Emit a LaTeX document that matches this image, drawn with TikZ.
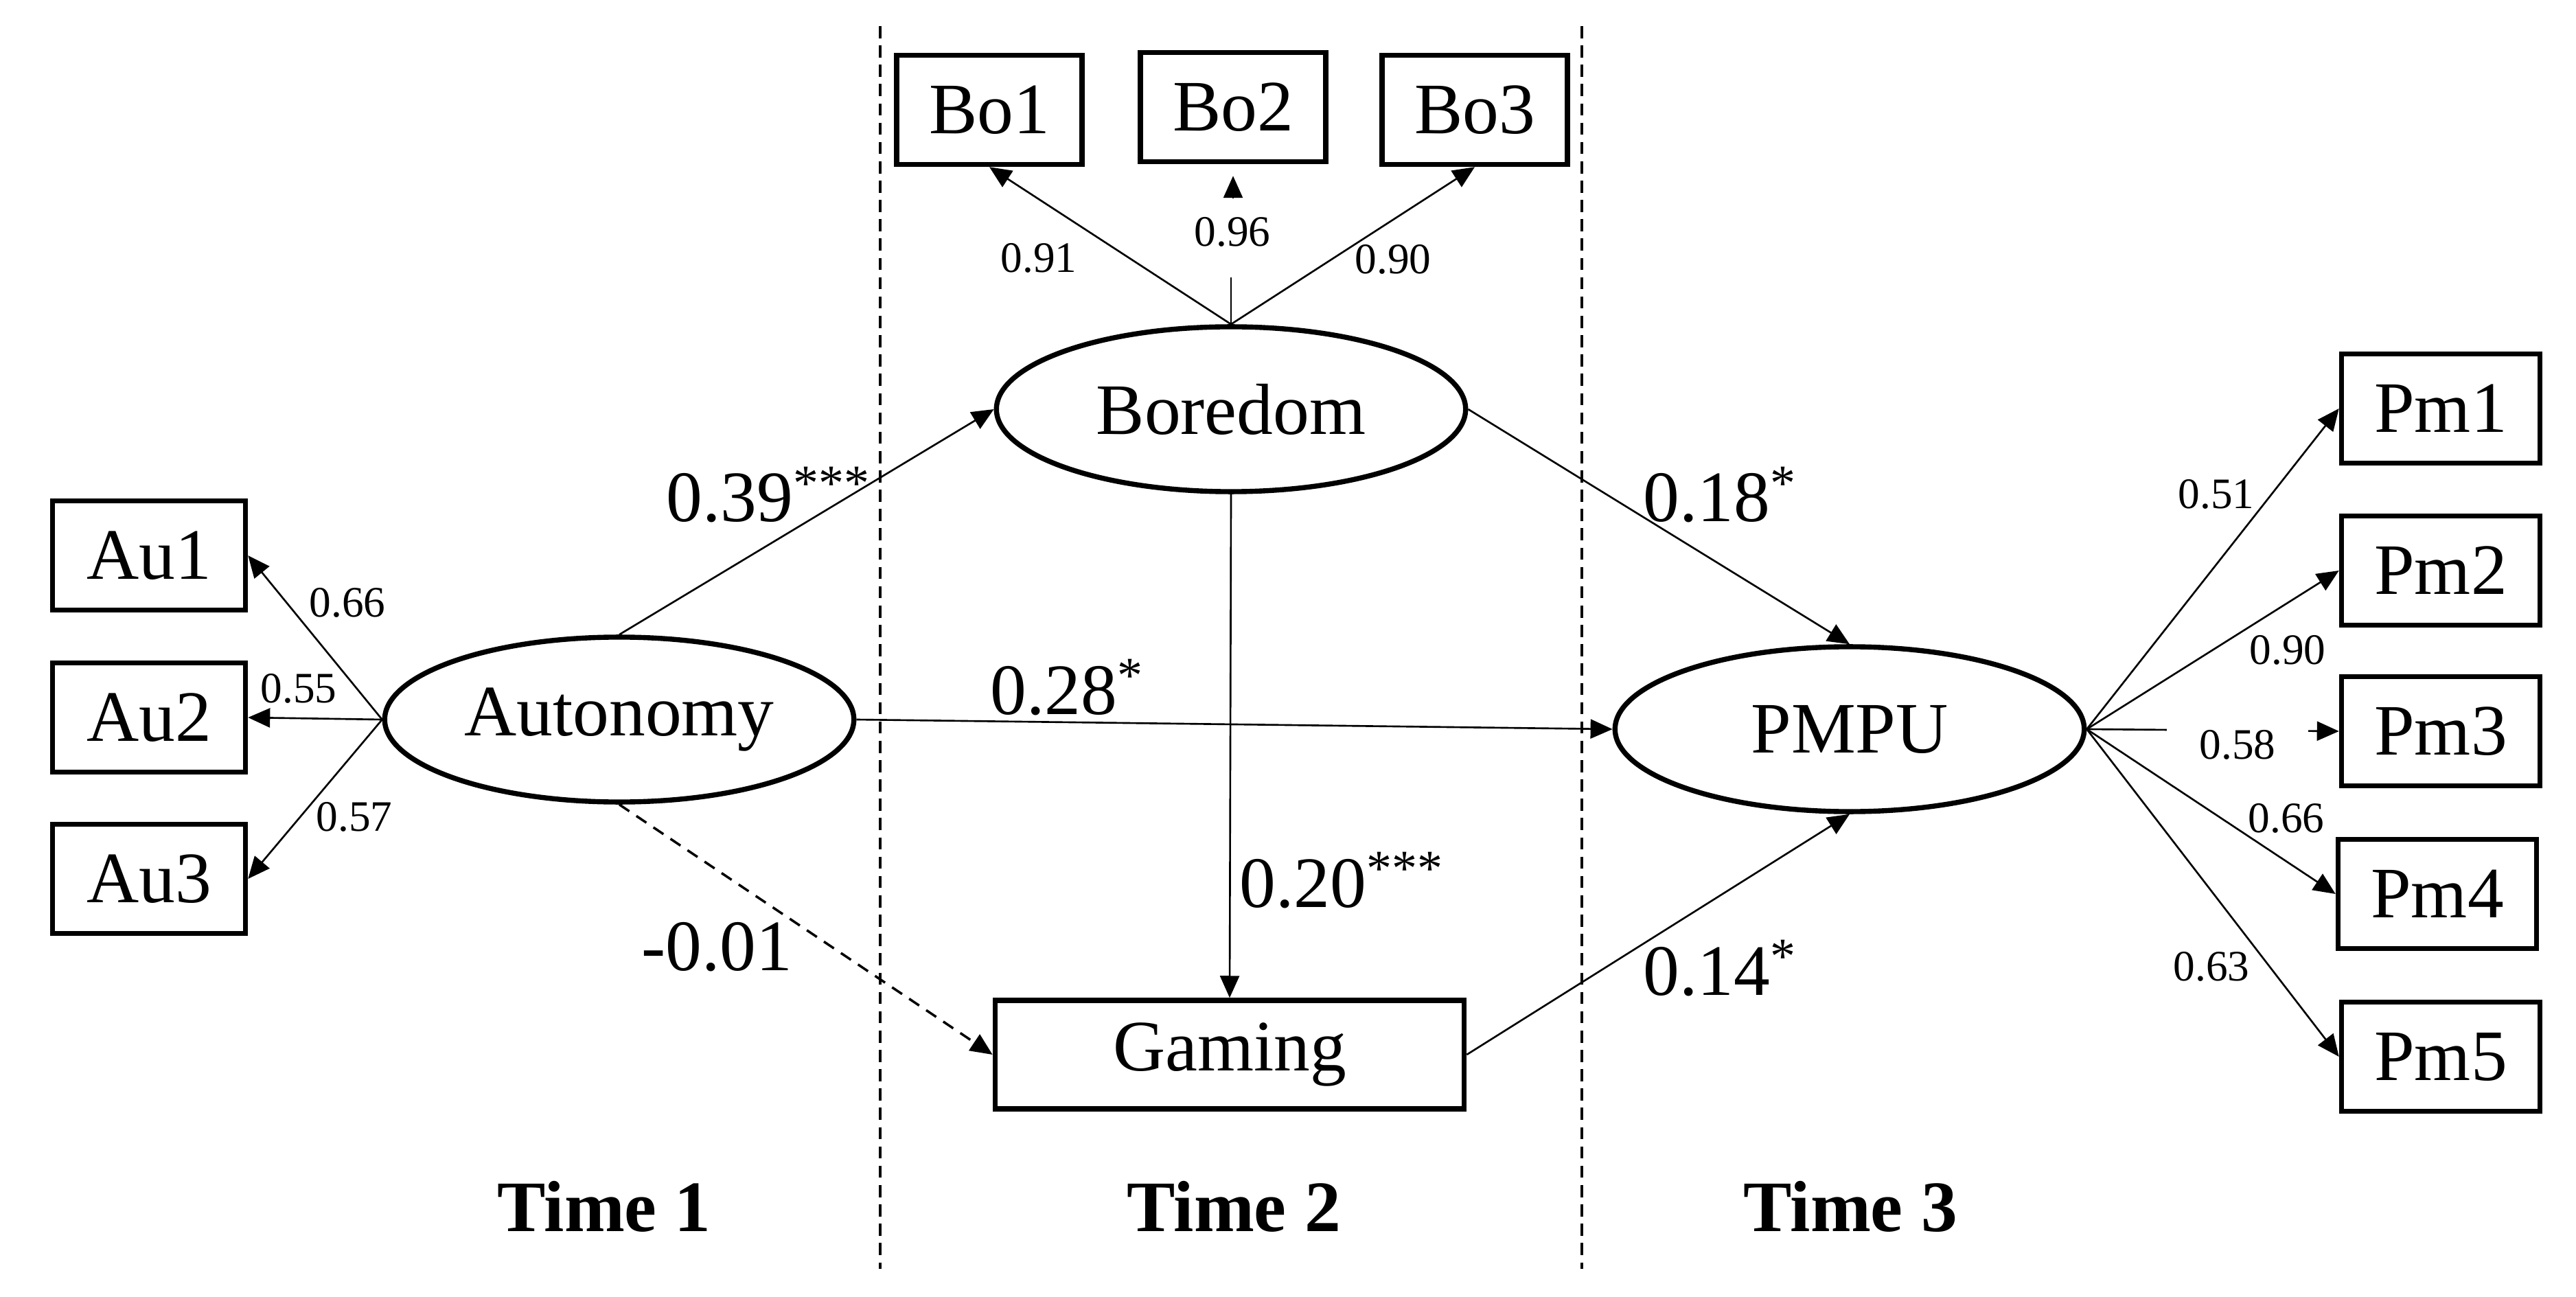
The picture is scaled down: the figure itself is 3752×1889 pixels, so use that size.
\documentclass[tikz,border=0pt]{standalone}
\usepackage{fontspec}
\setmainfont{Liberation Serif}
\usetikzlibrary{arrows.meta,shapes.geometric,calc}
\begin{document}
\begin{tikzpicture}[x=0.01cm,y=-0.01cm,
  obs/.style={draw,line width=2.1pt,rectangle,inner sep=0,minimum height=1.59cm,font=\fontsize{30}{36}\selectfont},
  lat/.style={draw,line width=2.1pt,ellipse,inner sep=0,minimum width=6.83cm,minimum height=2.40cm,font=\fontsize{30}{36}\selectfont},
  conn/.style={line width=0.75pt,-{Triangle[length=0.32cm,width=0.28cm]}},
  plain/.style={line width=0.75pt},
  sepline/.style={line width=1pt,dash pattern=on 5pt off 3pt},
  coef/.style={anchor=base west,font=\fontsize{30}{36}\selectfont,inner sep=0},
  load/.style={anchor=base,font=\fontsize{18}{21}\selectfont,inner sep=0},
  timelab/.style={anchor=base,font=\bfseries\fontsize{30}{36}\selectfont,inner sep=0}
]
\useasboundingbox (0,0) rectangle (3752,1889);

% separators
\coordinate (s1t) at (1282,38);
\coordinate (s1b) at (1282,1848);
\coordinate (s2t) at (2304,38);
\coordinate (s2b) at (2304,1848);
\draw[sepline] (s1t) -- (s1b);
\draw[sepline] (s2t) -- (s2b);

% observed indicators
\node[obs,minimum width=2.81cm] (au1) at (217,809) {Au1};
\node[obs,minimum width=2.81cm] (au2) at (217,1045) {Au2};
\node[obs,minimum width=2.81cm] (au3) at (217,1280) {Au3};
\node[obs,minimum width=2.70cm] (bo1) at (1441,160) {Bo1};
\node[obs,minimum width=2.70cm] (bo2) at (1796,156) {Bo2};
\node[obs,minimum width=2.70cm] (bo3) at (2148,160) {Bo3};
\node[obs,minimum width=2.89cm] (pm1) at (3555,595) {Pm1};
\node[obs,minimum width=2.89cm] (pm2) at (3555,831) {Pm2};
\node[obs,minimum width=2.89cm] (pm3) at (3555,1065) {Pm3};
\node[obs,minimum width=2.89cm] (pm4) at (3550,1302) {Pm4};
\node[obs,minimum width=2.89cm] (pm5) at (3555,1539) {Pm5};

% latent and central variables
\node[lat] (autonomy) at (902,1048) {Autonomy};
\node[lat] (boredom) at (1793,596) {Boredom};
\node[lat] (pmpu) at (2694,1062) {PMPU};
\node[obs,minimum width=6.83cm,minimum height=1.58cm] (gaming) at (1791,1536) {Gaming};

% measurement paths
\draw[conn] (autonomy.west) -- (au1.east);
\draw[conn] (autonomy.west) -- (au2.east);
\draw[conn] (autonomy.west) -- (au3.east);
\draw[conn] (boredom.north) -- (bo1.south);
\coordinate (bo2gap) at ($(boredom.north)+(0,-68)$);
\draw[plain] (boredom.north) -- (bo2gap);
\draw[conn] ($(bo2.south)+(0,50)$) -- ($(bo2.south)+(0,17)$);
\draw[conn] (boredom.north) -- (bo3.south);
\draw[conn] (pmpu.east) -- (pm1.west);
\draw[conn] (pmpu.east) -- (pm2.west);
\draw[conn] (pmpu.east) -- (pm3.west);
\draw[conn] (pmpu.east) -- (pm4.west);
\draw[conn] (pmpu.east) -- (pm5.west);

% structural paths
\draw[conn] (autonomy.north) -- (boredom.west);
\draw[conn] (autonomy.east) -- (pmpu.west);
\draw[conn,line width=1pt,dash pattern=on 5pt off 3.5pt] (autonomy.south) -- (gaming.west);
\draw[conn] (boredom.south) -- (gaming.north);
\draw[conn] (boredom.east) -- (pmpu.north);
\draw[conn] (gaming.east) -- (pmpu.south);

% coefficients
\node[coef] (c1) at (970,760) {0.39\textsuperscript{***}};
\node[coef] (c2) at (1442,1040) {0.28\textsuperscript{*}};
\node[coef] (c3) at (2393,760) {0.18\textsuperscript{*}};
\node[coef] (c4) at (2393,1449) {0.14\textsuperscript{*}};
\node[coef] (c5) at (1805,1321) {0.20\textsuperscript{***}};
\node[coef] (c6) at (934,1413) {-0.01};

% loadings
\node[load] (l1) at (506,899) {0.66};
\node[load] (l2) at (435,1023) {0.55};
\node[load] (l3) at (516,1210) {0.57};
\node[load] (l4) at (1513,397) {0.91};
\node[load] (l5) at (1795,359) {0.96};
\node[load] (l6) at (2029,399) {0.90};
\node[load] (l7) at (3228,741) {0.51};
\node[load] (l8) at (3332,967) {0.90};
\node[load,fill=white,inner xsep=0.48cm,inner ysep=0.1cm] (l9) at (3259,1105) {0.58};
\node[load] (l10) at (3330,1212) {0.66};
\node[load] (l11) at (3221,1428) {0.63};

% time labels
\node[timelab] (t1) at (880,1793) {Time 1};
\node[timelab] (t2) at (1797,1793) {Time 2};
\node[timelab] (t3) at (2695,1793) {Time 3};
\end{tikzpicture}
\end{document}
